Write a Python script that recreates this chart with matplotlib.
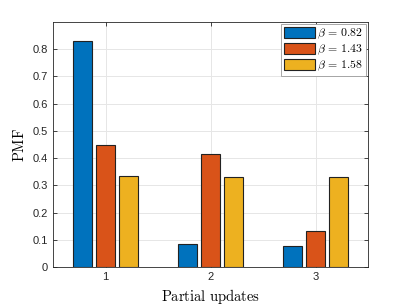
import numpy as np
import matplotlib.pyplot as plt

plt.rcParams['font.family'] = ['Liberation Sans', 'DejaVu Sans']
plt.rcParams['mathtext.fontset'] = 'cm'

updates = [1, 2, 3]
betas = ['0.82', '1.43', '1.58']
pmf_082 = [0.832, 0.083, 0.078]
pmf_143 = [0.449, 0.415, 0.131]
pmf_158 = [0.333, 0.332, 0.331]
colors = ['#0072BD', '#D95319', '#EDB120']

fig = plt.figure(figsize=(4.07, 3.05), dpi=100, facecolor='w')
ax = fig.add_axes([53/407, 38/305, 315/407, 245/305])

x = np.array(updates)
w = 0.18
for i, vals in enumerate([pmf_082, pmf_143, pmf_158]):
	ax.bar(x + (i - 1) * 0.22, vals, width=w, color=colors[i], edgecolor='#222222',
		linewidth=0.8, label=r'$\beta\,=\,%s$' % betas[i], zorder=3)

ax.set_xlim(0.5, 3.5)
ax.set_ylim(0, 0.9)
ax.set_xticks(updates)
ax.set_yticks(np.arange(0, 0.81, 0.1))
ax.set_yticklabels(['0', '0.1', '0.2', '0.3', '0.4', '0.5', '0.6', '0.7', '0.8'])
ax.tick_params(direction='in', top=True, right=True, labelsize=8, colors='#262626',
	length=3, width=0.6)
ax.grid(True, color='#e6e6e6', linewidth=0.7, zorder=0)
ax.set_axisbelow(True)
for s in ax.spines.values():
	s.set_color('#262626')
	s.set_linewidth(0.6)

ax.set_xlabel(r'$\mathrm{Partial\ updates}$', fontsize=10.5, labelpad=4)
ax.set_ylabel(r'$\mathrm{PMF}$', fontsize=10.5, labelpad=4)

leg = ax.legend(loc='upper right', fontsize=8.5, fancybox=False, framealpha=1,
	edgecolor='#999999', borderpad=0.25, labelspacing=0.15, handlelength=2.6,
	handleheight=1.0, handletextpad=0.2, borderaxespad=0.15)
leg.get_frame().set_linewidth(0.6)

plt.savefig('out.png', dpi=100)
